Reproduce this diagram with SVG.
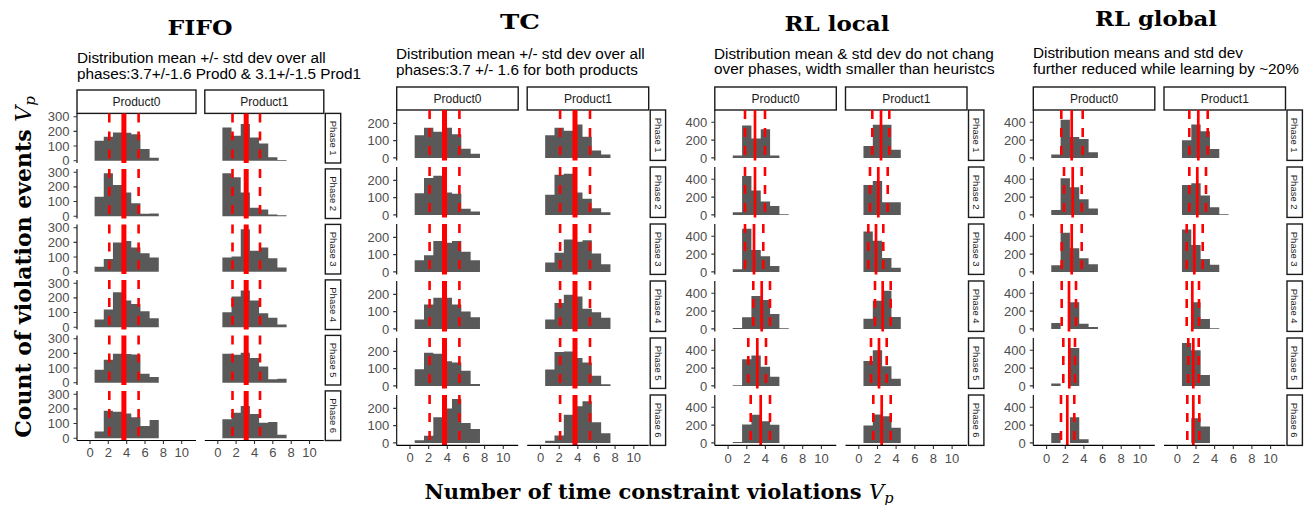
<svg xmlns="http://www.w3.org/2000/svg" width="1316" height="505" viewBox="0 0 1316 505">
<style>
text{font-family:"Liberation Sans",Arial,sans-serif}
.title{font-family:"DejaVu Serif",serif;font-weight:bold;font-size:21px;text-anchor:middle;fill:#000}
.sub{font-size:15.3px;fill:#000}
.bar{fill:#595959}
.mu{stroke:#f00;stroke-width:5;fill:none}
.mu-rl{stroke:#f00;stroke-width:2.7;fill:none}
.sd{stroke:#f00;stroke-width:2.6;stroke-dasharray:9 9;fill:none}
.ax{stroke:#000;stroke-width:1.1;fill:none}
.tk{stroke:#333;stroke-width:1.1;fill:none}
.yl{font-size:13px;fill:#4d4d4d;text-anchor:end}
.xl{font-size:13px;fill:#4d4d4d;text-anchor:middle}
.strip{fill:#fff;stroke:#1a1a1a;stroke-width:1.4}
.st{font-size:12px;fill:#1a1a1a;text-anchor:middle}
.ph{font-size:9.5px;fill:#1a1a1a;text-anchor:middle}
.lab{font-family:"DejaVu Serif",serif;font-weight:bold;font-size:22px;text-anchor:middle;fill:#000}
.lab-x{font-size:21px}
.math{font-style:italic;font-weight:normal}
.sub-p{font-size:15px}
.lab-x .sub-p{font-size:14.5px}
</style>
<defs>
  <!-- y axes, one per panel row (local origin = zero count) -->
  <g id="yax-fifo">
    <path class="ax" d="M0 -47.3V2.3"/>
    <path class="tk" d="M-3.5 0H0M-3.5 -14.67H0M-3.5 -29.33H0M-3.5 -44H0"/>
    <text class="yl" x="-7.5" y="4.6">0</text>
    <text class="yl" x="-7.5" y="-10.07">100</text>
    <text class="yl" x="-7.5" y="-24.73">200</text>
    <text class="yl" x="-7.5" y="-39.4">300</text>
  </g>
  <g id="yax-tc">
    <path class="ax" d="M0 -47.9V2.5"/>
    <path class="tk" d="M-3.5 0H0M-3.5 -17.25H0M-3.5 -34.5H0"/>
    <text class="yl" x="-7.5" y="4.6">0</text>
    <text class="yl" x="-7.5" y="-12.65">100</text>
    <text class="yl" x="-7.5" y="-29.9">200</text>
  </g>
  <g id="yax-rl">
    <path class="ax" d="M0 -47.9V2.5"/>
    <path class="tk" d="M-3.5 0H0M-3.5 -17.8H0M-3.5 -35.6H0"/>
    <text class="yl" x="-7.5" y="4.6">0</text>
    <text class="yl" x="-7.5" y="-13.2">200</text>
    <text class="yl" x="-7.5" y="-31">400</text>
  </g>
  <!-- mean and mean +/- sd markers that stay fixed over all phases -->
  <g id="vl-fifo">
    <path class="sd" d="M109.3 -47.3V2.3M138.6 -47.3V2.3M232.5 -47.3V2.3M260 -47.3V2.3"/>
    <path class="mu" d="M123.9 -47.3V2.3M246.2 -47.3V2.3"/>
  </g>
  <g id="vl-tc">
    <path class="sd" d="M429.6 -47.9V2.5M459.4 -47.9V2.5M560.1 -47.9V2.5M590 -47.9V2.5"/>
    <path class="mu" d="M444.5 -47.9V2.5M575 -47.9V2.5"/>
  </g>
</defs>

<rect width="1316" height="505" fill="#fff"/>

<!-- ===== FIFO ===== -->
<g id="fifo">
  <text class="title" x="200" y="35" textLength="65" lengthAdjust="spacingAndGlyphs">FIFO</text>
  <text class="sub" x="77" y="63">Distribution mean +/- std dev over all</text>
  <text class="sub" x="77" y="79">phases:3.7+/-1.6 Prod0 &amp; 3.1+/-1.5 Prod1</text>
  <g id="fifo-strips">
    <rect class="strip" x="77" y="90" width="119" height="23.4"/>
    <text class="st" x="136.5" y="106">Product0</text>
    <rect class="strip" x="204.8" y="90" width="119" height="23.4"/>
    <text class="st" x="264.3" y="106">Product1</text>
  </g>
  <g id="fifo-ph1" transform="translate(0,160.7)">
    <path class="bar" transform="translate(90 0) scale(9.17 -0.14667)" d="M0.5 0V136H1.5V164H2.5V193H3.5V190H4.5V180H5.5V80H6.5V20H7.5V0Z"/>
    <path class="bar" transform="translate(217.8 0) scale(9.17 -0.14667)" d="M0.5 0V227H1.5V170H2.5V250H3.5V159H4.5V118H5.5V23H6.5V5H7.5V0Z"/>
    <use href="#vl-fifo"/>
    <use href="#yax-fifo" x="77"/>
    <rect class="strip" x="325.3" y="-47.3" width="15.4" height="49.6"/>
    <text class="ph" transform="translate(329.6,-22.5) rotate(90)">Phase 1</text>
  </g>
  <g id="fifo-ph2" transform="translate(0,216.2)">
    <path class="bar" transform="translate(90 0) scale(9.17 -0.14667)" d="M0.5 0V132H1.5V293H2.5V212H3.5V162H4.5V88H5.5V16H6.5V18H7.5V0Z"/>
    <path class="bar" transform="translate(217.8 0) scale(9.17 -0.14667)" d="M0.5 0V293H1.5V265H2.5V162H3.5V58H4.5V46H5.5V12H6.5V7H7.5V0Z"/>
    <use href="#vl-fifo"/>
    <use href="#yax-fifo" x="77"/>
    <rect class="strip" x="325.3" y="-47.3" width="15.4" height="49.6"/>
    <text class="ph" transform="translate(329.6,-22.5) rotate(90)">Phase 2</text>
  </g>
  <g id="fifo-ph3" transform="translate(0,271.7)">
    <path class="bar" transform="translate(90 0) scale(9.17 -0.14667)" d="M0.5 0V34H1.5V86H2.5V199H3.5V210H4.5V165H5.5V126H6.5V97H7.5V0Z"/>
    <path class="bar" transform="translate(217.8 0) scale(9.17 -0.14667)" d="M0.5 0V97H1.5V104H2.5V289H3.5V142H4.5V165H5.5V92H6.5V29H7.5V0Z"/>
    <use href="#vl-fifo"/>
    <use href="#yax-fifo" x="77"/>
    <rect class="strip" x="325.3" y="-47.3" width="15.4" height="49.6"/>
    <text class="ph" transform="translate(329.6,-22.5) rotate(90)">Phase 3</text>
  </g>
  <g id="fifo-ph4" transform="translate(0,327.2)">
    <path class="bar" transform="translate(90 0) scale(9.17 -0.14667)" d="M0.5 0V52H1.5V120H2.5V239H3.5V182H4.5V159H5.5V109H6.5V61H7.5V0Z"/>
    <path class="bar" transform="translate(217.8 0) scale(9.17 -0.14667)" d="M0.5 0V102H1.5V209H2.5V250H3.5V182H4.5V95H5.5V64H6.5V18H7.5V0Z"/>
    <use href="#vl-fifo"/>
    <use href="#yax-fifo" x="77"/>
    <rect class="strip" x="325.3" y="-47.3" width="15.4" height="49.6"/>
    <text class="ph" transform="translate(329.6,-22.5) rotate(90)">Phase 4</text>
  </g>
  <g id="fifo-ph5" transform="translate(0,382.7)">
    <path class="bar" transform="translate(90 0) scale(9.17 -0.14667)" d="M0.5 0V89H1.5V157H2.5V198H3.5V195H4.5V193H5.5V61H6.5V39H7.5V0Z"/>
    <path class="bar" transform="translate(217.8 0) scale(9.17 -0.14667)" d="M0.5 0V198H1.5V191H2.5V205H3.5V168H4.5V111H5.5V23H6.5V27H7.5V0Z"/>
    <use href="#vl-fifo"/>
    <use href="#yax-fifo" x="77"/>
    <rect class="strip" x="325.3" y="-47.3" width="15.4" height="49.6"/>
    <text class="ph" transform="translate(329.6,-22.5) rotate(90)">Phase 5</text>
  </g>
  <g id="fifo-ph6" transform="translate(0,438.2)">
    <path class="bar" transform="translate(90 0) scale(9.17 -0.14667)" d="M0.5 0V45H1.5V187H2.5V181H3.5V169H4.5V142H5.5V84H6.5V124H7.5V0Z"/>
    <path class="bar" transform="translate(217.8 0) scale(9.17 -0.14667)" d="M0.5 0V129H1.5V174H2.5V219H3.5V165H4.5V106H5.5V111H6.5V23H7.5V0Z"/>
    <use href="#vl-fifo"/>
    <use href="#yax-fifo" x="77"/>
    <rect class="strip" x="325.3" y="-47.3" width="15.4" height="49.6"/>
    <text class="ph" transform="translate(329.6,-22.5) rotate(90)">Phase 6</text>
  </g>
  <g id="fifo-xaxis">
    <path class="ax" d="M77 440.5H196M204.8 440.5H323.8"/>
    <path class="tk" d="M90 440.5v3.5M108.3 440.5v3.5M126.7 440.5v3.5M145 440.5v3.5M163.4 440.5v3.5M181.7 440.5v3.5M217.8 440.5v3.5M236.1 440.5v3.5M254.5 440.5v3.5M272.8 440.5v3.5M291.2 440.5v3.5M309.5 440.5v3.5"/>
    <text class="xl" x="90" y="457">0</text><text class="xl" x="108.3" y="457">2</text><text class="xl" x="126.7" y="457">4</text><text class="xl" x="145" y="457">6</text><text class="xl" x="163.4" y="457">8</text><text class="xl" x="181.7" y="457">10</text>
    <text class="xl" x="217.8" y="457">0</text><text class="xl" x="236.1" y="457">2</text><text class="xl" x="254.5" y="457">4</text><text class="xl" x="272.8" y="457">6</text><text class="xl" x="291.2" y="457">8</text><text class="xl" x="309.5" y="457">10</text>
  </g>
</g>

<!-- ===== TC ===== -->
<g id="tc">
  <text class="title" x="520" y="29" textLength="40" lengthAdjust="spacingAndGlyphs">TC</text>
  <text class="sub" x="396" y="59">Distribution mean +/- std dev over all</text>
  <text class="sub" x="396" y="75">phases:3.7 +/- 1.6 for both products</text>
  <g id="tc-strips">
    <rect class="strip" x="396.7" y="87" width="121.5" height="23"/>
    <text class="st" x="457.5" y="102.8">Product0</text>
    <rect class="strip" x="527.2" y="87" width="121.5" height="23"/>
    <text class="st" x="588" y="102.8">Product1</text>
  </g>
  <g id="tc-ph1" transform="translate(0,157.9)">
    <path class="bar" transform="translate(410 0) scale(9.33 -0.1725)" d="M0.5 0V131H1.5V175H2.5V151H3.5V175H4.5V137H5.5V53H6.5V24H7.5V0Z"/>
    <path class="bar" transform="translate(540.5 0) scale(9.33 -0.1725)" d="M0.5 0V131H1.5V175H2.5V157H3.5V194H4.5V122H5.5V43H6.5V20H7.5V0Z"/>
    <use href="#vl-tc"/>
    <use href="#yax-tc" x="396.7"/>
    <rect class="strip" x="650.2" y="-47.9" width="15.4" height="50.4"/>
    <text class="ph" transform="translate(654.5,-22.7) rotate(90)">Phase 1</text>
  </g>
  <g id="tc-ph2" transform="translate(0,214.9)">
    <path class="bar" transform="translate(410 0) scale(9.33 -0.1725)" d="M0.5 0V126H1.5V214H2.5V227H3.5V130H4.5V122H5.5V35H6.5V19H7.5V0Z"/>
    <path class="bar" transform="translate(540.5 0) scale(9.33 -0.1725)" d="M0.5 0V117H1.5V233H2.5V239H3.5V130H4.5V93H5.5V39H6.5V16H7.5V0Z"/>
    <use href="#vl-tc"/>
    <use href="#yax-tc" x="396.7"/>
    <rect class="strip" x="650.2" y="-47.9" width="15.4" height="50.4"/>
    <text class="ph" transform="translate(654.5,-22.7) rotate(90)">Phase 2</text>
  </g>
  <g id="tc-ph3" transform="translate(0,271.9)">
    <path class="bar" transform="translate(410 0) scale(9.33 -0.1725)" d="M0.5 0V68H1.5V97H2.5V179H3.5V169H4.5V179H5.5V117H6.5V68H7.5V0Z"/>
    <path class="bar" transform="translate(540.5 0) scale(9.33 -0.1725)" d="M0.5 0V54H1.5V111H2.5V188H3.5V175H4.5V184H5.5V107H6.5V45H7.5V0Z"/>
    <use href="#vl-tc"/>
    <use href="#yax-tc" x="396.7"/>
    <rect class="strip" x="650.2" y="-47.9" width="15.4" height="50.4"/>
    <text class="ph" transform="translate(654.5,-22.7) rotate(90)">Phase 3</text>
  </g>
  <g id="tc-ph4" transform="translate(0,328.9)">
    <path class="bar" transform="translate(410 0) scale(9.33 -0.1725)" d="M0.5 0V55H1.5V142H2.5V181H3.5V181H4.5V142H5.5V101H6.5V68H7.5V0Z"/>
    <path class="bar" transform="translate(540.5 0) scale(9.33 -0.1725)" d="M0.5 0V55H1.5V150H2.5V198H3.5V188H4.5V117H5.5V97H6.5V64H7.5V0Z"/>
    <use href="#vl-tc"/>
    <use href="#yax-tc" x="396.7"/>
    <rect class="strip" x="650.2" y="-47.9" width="15.4" height="50.4"/>
    <text class="ph" transform="translate(654.5,-22.7) rotate(90)">Phase 4</text>
  </g>
  <g id="tc-ph5" transform="translate(0,385.9)">
    <path class="bar" transform="translate(410 0) scale(9.33 -0.1725)" d="M0.5 0V97H1.5V192H2.5V187H3.5V143H4.5V135H5.5V88H6.5V11H7.5V0Z"/>
    <path class="bar" transform="translate(540.5 0) scale(9.33 -0.1725)" d="M0.5 0V95H1.5V196H2.5V200H3.5V162H4.5V135H5.5V59H6.5V10H7.5V0Z"/>
    <use href="#vl-tc"/>
    <use href="#yax-tc" x="396.7"/>
    <rect class="strip" x="650.2" y="-47.9" width="15.4" height="50.4"/>
    <text class="ph" transform="translate(654.5,-22.7) rotate(90)">Phase 5</text>
  </g>
  <g id="tc-ph6" transform="translate(0,442.9)">
    <path class="bar" transform="translate(410 0) scale(9.33 -0.1725)" d="M0.5 0V15H1.5V41H2.5V148H3.5V200H4.5V254H5.5V115H6.5V80H7.5V0Z"/>
    <path class="bar" transform="translate(540.5 0) scale(9.33 -0.1725)" d="M0.5 0V13H1.5V43H2.5V163H3.5V213H4.5V241H5.5V120H6.5V56H7.5V0Z"/>
    <use href="#vl-tc"/>
    <use href="#yax-tc" x="396.7"/>
    <rect class="strip" x="650.2" y="-47.9" width="15.4" height="50.4"/>
    <text class="ph" transform="translate(654.5,-22.7) rotate(90)">Phase 6</text>
  </g>
  <g id="tc-xaxis">
    <path class="ax" d="M396.7 445.4H518.2M527.2 445.4H648.7"/>
    <path class="tk" d="M410 445.4v3.5M428.7 445.4v3.5M447.3 445.4v3.5M466 445.4v3.5M484.6 445.4v3.5M503.3 445.4v3.5M540.5 445.4v3.5M559.2 445.4v3.5M577.8 445.4v3.5M596.5 445.4v3.5M615.1 445.4v3.5M633.8 445.4v3.5"/>
    <text class="xl" x="410" y="462">0</text><text class="xl" x="428.7" y="462">2</text><text class="xl" x="447.3" y="462">4</text><text class="xl" x="466" y="462">6</text><text class="xl" x="484.6" y="462">8</text><text class="xl" x="503.3" y="462">10</text>
    <text class="xl" x="540.5" y="462">0</text><text class="xl" x="559.2" y="462">2</text><text class="xl" x="577.8" y="462">4</text><text class="xl" x="596.5" y="462">6</text><text class="xl" x="615.1" y="462">8</text><text class="xl" x="633.8" y="462">10</text>
  </g>
</g>

<!-- ===== RL local ===== -->
<g id="rl-local">
  <text class="title" x="837" y="31" textLength="105" lengthAdjust="spacingAndGlyphs">RL local</text>
  <text class="sub" x="714" y="59">Distribution mean &amp; std dev do not chang</text>
  <text class="sub" x="714" y="74">over phases, width smaller than heuristcs</text>
  <g id="rll-strips">
    <rect class="strip" x="714.8" y="87" width="121.5" height="23"/>
    <text class="st" x="775.6" y="102.8">Product0</text>
    <rect class="strip" x="845.5" y="87" width="121.5" height="23"/>
    <text class="st" x="906.3" y="102.8">Product1</text>
  </g>
  <g id="rll-ph1" transform="translate(0,157.9)">
    <path class="bar" transform="translate(728.1 0) scale(9.33 -0.089)" d="M0.5 0V27H1.5V365H2.5V219H3.5V323H4.5V27H5.5V0Z"/>
    <path class="bar" transform="translate(858.8 0) scale(9.33 -0.089)" d="M0.5 0V135H1.5V373H2.5V373H3.5V92H4.5V0Z"/>
    <path class="sd" d="M745 -47.9V2.5M765 -47.9V2.5M872.3 -47.9V2.5M889.3 -47.9V2.5"/>
    <path class="mu-rl" d="M755 -47.9V2.5M881 -47.9V2.5"/>
    <use href="#yax-rl" x="714.8"/>
    <rect class="strip" x="968.5" y="-47.9" width="15.4" height="50.4"/>
    <text class="ph" transform="translate(972.8,-22.7) rotate(90)">Phase 1</text>
  </g>
  <g id="rll-ph2" transform="translate(0,214.9)">
    <path class="bar" transform="translate(728.1 0) scale(9.33 -0.089)" d="M0.5 0V30H1.5V437H2.5V273H3.5V150H4.5V101H5.5V7H6.5V0Z"/>
    <path class="bar" transform="translate(858.8 0) scale(9.33 -0.089)" d="M0.5 0V336H1.5V381H2.5V142H3.5V142H4.5V0Z"/>
    <path class="sd" d="M745 -47.9V2.5M765 -47.9V2.5M870 -47.9V2.5M887.7 -47.9V2.5"/>
    <path class="mu-rl" d="M755 -47.9V2.5M878.3 -47.9V2.5"/>
    <use href="#yax-rl" x="714.8"/>
    <rect class="strip" x="968.5" y="-47.9" width="15.4" height="50.4"/>
    <text class="ph" transform="translate(972.8,-22.7) rotate(90)">Phase 2</text>
  </g>
  <g id="rll-ph3" transform="translate(0,271.9)">
    <path class="bar" transform="translate(728.1 0) scale(9.33 -0.089)" d="M0.5 0V29H1.5V484H2.5V247H3.5V175H4.5V65H5.5V0Z"/>
    <path class="bar" transform="translate(858.8 0) scale(9.33 -0.089)" d="M0.5 0V455H1.5V349H2.5V156H3.5V47H4.5V0Z"/>
    <path class="sd" d="M745 -47.9V2.5M763.3 -47.9V2.5M868.3 -47.9V2.5M883.3 -47.9V2.5"/>
    <path class="mu-rl" d="M754 -47.9V2.5M876 -47.9V2.5"/>
    <use href="#yax-rl" x="714.8"/>
    <rect class="strip" x="968.5" y="-47.9" width="15.4" height="50.4"/>
    <text class="ph" transform="translate(972.8,-22.7) rotate(90)">Phase 3</text>
  </g>
  <g id="rll-ph4" transform="translate(0,328.9)">
    <path class="bar" transform="translate(728.1 0) scale(9.33 -0.089)" d="M0.5 0V11H1.5V130H2.5V370H3.5V326H4.5V167H5.5V7H6.5V0Z"/>
    <path class="bar" transform="translate(858.8 0) scale(9.33 -0.089)" d="M0.5 0V115H1.5V315H2.5V430H3.5V133H4.5V0Z"/>
    <path class="sd" d="M753.3 -47.9V2.5M770 -47.9V2.5M875 -47.9V2.5M890.7 -47.9V2.5"/>
    <path class="mu-rl" d="M761.7 -47.9V2.5M882.7 -47.9V2.5"/>
    <use href="#yax-rl" x="714.8"/>
    <rect class="strip" x="968.5" y="-47.9" width="15.4" height="50.4"/>
    <text class="ph" transform="translate(972.8,-22.7) rotate(90)">Phase 4</text>
  </g>
  <g id="rll-ph5" transform="translate(0,385.9)">
    <path class="bar" transform="translate(728.1 0) scale(9.33 -0.089)" d="M0.5 0V7H1.5V300H2.5V341H3.5V215H4.5V104H5.5V0Z"/>
    <path class="bar" transform="translate(858.8 0) scale(9.33 -0.089)" d="M0.5 0V281H1.5V400H2.5V222H3.5V81H4.5V0Z"/>
    <path class="sd" d="M748.3 -47.9V2.5M766 -47.9V2.5M871 -47.9V2.5M886.7 -47.9V2.5"/>
    <path class="mu-rl" d="M757.3 -47.9V2.5M879 -47.9V2.5"/>
    <use href="#yax-rl" x="714.8"/>
    <rect class="strip" x="968.5" y="-47.9" width="15.4" height="50.4"/>
    <text class="ph" transform="translate(972.8,-22.7) rotate(90)">Phase 5</text>
  </g>
  <g id="rll-ph6" transform="translate(0,442.9)">
    <path class="bar" transform="translate(728.1 0) scale(9.33 -0.089)" d="M0.5 0V11H1.5V207H2.5V315H3.5V244H4.5V204H5.5V0Z"/>
    <path class="bar" transform="translate(858.8 0) scale(9.33 -0.089)" d="M0.5 0V196H1.5V319H2.5V300H3.5V170H4.5V0Z"/>
    <path class="sd" d="M750.7 -47.9V2.5M770 -47.9V2.5M873.3 -47.9V2.5M890.7 -47.9V2.5"/>
    <path class="mu-rl" d="M760.7 -47.9V2.5M881.7 -47.9V2.5"/>
    <use href="#yax-rl" x="714.8"/>
    <rect class="strip" x="968.5" y="-47.9" width="15.4" height="50.4"/>
    <text class="ph" transform="translate(972.8,-22.7) rotate(90)">Phase 6</text>
  </g>
  <g id="rll-xaxis">
    <path class="ax" d="M714.8 445.4H836.3M845.5 445.4H967"/>
    <path class="tk" d="M728.1 445.4v3.5M746.8 445.4v3.5M765.4 445.4v3.5M784.1 445.4v3.5M802.7 445.4v3.5M821.4 445.4v3.5M858.8 445.4v3.5M877.5 445.4v3.5M896.1 445.4v3.5M914.8 445.4v3.5M933.4 445.4v3.5M952.1 445.4v3.5"/>
    <text class="xl" x="728.1" y="462.5">0</text><text class="xl" x="746.8" y="462.5">2</text><text class="xl" x="765.4" y="462.5">4</text><text class="xl" x="784.1" y="462.5">6</text><text class="xl" x="802.7" y="462.5">8</text><text class="xl" x="821.4" y="462.5">10</text>
    <text class="xl" x="858.8" y="462.5">0</text><text class="xl" x="877.5" y="462.5">2</text><text class="xl" x="896.1" y="462.5">4</text><text class="xl" x="914.8" y="462.5">6</text><text class="xl" x="933.4" y="462.5">8</text><text class="xl" x="952.1" y="462.5">10</text>
  </g>
</g>

<!-- ===== RL global ===== -->
<g id="rl-global">
  <text class="title" x="1156" y="26" textLength="122" lengthAdjust="spacingAndGlyphs">RL global</text>
  <text class="sub" x="1033" y="58">Distribution means and std dev</text>
  <text class="sub" x="1033" y="74">further reduced while learning by ~20%</text>
  <g id="rlg-strips">
    <rect class="strip" x="1033.3" y="87" width="121.5" height="23"/>
    <text class="st" x="1094.1" y="102.8">Product0</text>
    <rect class="strip" x="1164" y="87" width="121.5" height="23"/>
    <text class="st" x="1224.8" y="102.8">Product1</text>
  </g>
  <g id="rlg-ph1" transform="translate(0,157.9)">
    <path class="bar" transform="translate(1046.6 0) scale(9.33 -0.089)" d="M0.5 0V37H1.5V430H2.5V236H3.5V213H4.5V64H5.5V0Z"/>
    <path class="bar" transform="translate(1177.3 0) scale(9.33 -0.089)" d="M0.5 0V198H1.5V374H2.5V299H3.5V101H4.5V0Z"/>
    <path class="sd" d="M1061.3 -47.9V2.5M1082.7 -47.9V2.5M1189.3 -47.9V2.5M1207.7 -47.9V2.5"/>
    <path class="mu-rl" d="M1071.7 -47.9V2.5M1198.3 -47.9V2.5"/>
    <use href="#yax-rl" x="1033.3"/>
    <rect class="strip" x="1287" y="-47.9" width="15.4" height="50.4"/>
    <text class="ph" transform="translate(1291.3,-22.7) rotate(90)">Phase 1</text>
  </g>
  <g id="rlg-ph2" transform="translate(0,214.9)">
    <path class="bar" transform="translate(1046.6 0) scale(9.33 -0.089)" d="M0.5 0V56H1.5V411H2.5V310H3.5V176H4.5V71H5.5V0Z"/>
    <path class="bar" transform="translate(1177.3 0) scale(9.33 -0.089)" d="M0.5 0V336H1.5V355H2.5V217H3.5V86H4.5V7H5.5V0Z"/>
    <path class="sd" d="M1064 -47.9V2.5M1081.7 -47.9V2.5M1189.3 -47.9V2.5M1206 -47.9V2.5"/>
    <path class="mu-rl" d="M1072.7 -47.9V2.5M1197.3 -47.9V2.5"/>
    <use href="#yax-rl" x="1033.3"/>
    <rect class="strip" x="1287" y="-47.9" width="15.4" height="50.4"/>
    <text class="ph" transform="translate(1291.3,-22.7) rotate(90)">Phase 2</text>
  </g>
  <g id="rlg-ph3" transform="translate(0,271.9)">
    <path class="bar" transform="translate(1046.6 0) scale(9.33 -0.089)" d="M0.5 0V76H1.5V440H2.5V265H3.5V153H4.5V87H5.5V0Z"/>
    <path class="bar" transform="translate(1177.3 0) scale(9.33 -0.089)" d="M0.5 0V476H1.5V302H2.5V145H3.5V80H4.5V0Z"/>
    <path class="sd" d="M1061.7 -47.9V2.5M1081.7 -47.9V2.5M1186.7 -47.9V2.5M1202.7 -47.9V2.5"/>
    <path class="mu-rl" d="M1071.7 -47.9V2.5M1194.3 -47.9V2.5"/>
    <use href="#yax-rl" x="1033.3"/>
    <rect class="strip" x="1287" y="-47.9" width="15.4" height="50.4"/>
    <text class="ph" transform="translate(1291.3,-22.7) rotate(90)">Phase 3</text>
  </g>
  <g id="rlg-ph4" transform="translate(0,328.9)">
    <path class="bar" transform="translate(1046.6 0) scale(9.33 -0.089)" d="M0.5 0V67H1.5V0H2.5V300H3.5V59H4.5V22H5.5V0Z"/>
    <path class="bar" transform="translate(1177.3 0) scale(9.33 -0.089)" d="M1.5 0V300H2.5V111H3.5V7H4.5V0Z"/>
    <path class="sd" d="M1061.7 -47.9V2.5M1076 -47.9V2.5M1186.7 -47.9V2.5M1199 -47.9V2.5"/>
    <path class="mu-rl" d="M1069 -47.9V2.5M1192.3 -47.9V2.5"/>
    <use href="#yax-rl" x="1033.3"/>
    <rect class="strip" x="1287" y="-47.9" width="15.4" height="50.4"/>
    <text class="ph" transform="translate(1291.3,-22.7) rotate(90)">Phase 4</text>
  </g>
  <g id="rlg-ph5" transform="translate(0,385.9)">
    <path class="bar" transform="translate(1046.6 0) scale(9.33 -0.089)" d="M0.5 0V26H1.5V0H2.5V426H3.5V0Z"/>
    <path class="bar" transform="translate(1177.3 0) scale(9.33 -0.089)" d="M0.5 0V481H1.5V400H2.5V122H3.5V0Z"/>
    <path class="sd" d="M1063.3 -47.9V2.5M1075 -47.9V2.5M1188.3 -47.9V2.5M1198.7 -47.9V2.5"/>
    <path class="mu-rl" d="M1069.3 -47.9V2.5M1193.3 -47.9V2.5"/>
    <use href="#yax-rl" x="1033.3"/>
    <rect class="strip" x="1287" y="-47.9" width="15.4" height="50.4"/>
    <text class="ph" transform="translate(1291.3,-22.7) rotate(90)">Phase 5</text>
  </g>
  <g id="rlg-ph6" transform="translate(0,442.9)">
    <path class="bar" transform="translate(1046.6 0) scale(9.33 -0.089)" d="M0.5 0V111H1.5V0H2.5V289H3.5V41H4.5V0Z"/>
    <path class="bar" transform="translate(1177.3 0) scale(9.33 -0.089)" d="M1.5 0V278H2.5V185H3.5V0Z"/>
    <path class="sd" d="M1061 -47.9V2.5M1074.3 -47.9V2.5M1187.3 -47.9V2.5M1199.3 -47.9V2.5"/>
    <path class="mu-rl" d="M1067.3 -47.9V2.5M1193.3 -47.9V2.5"/>
    <use href="#yax-rl" x="1033.3"/>
    <rect class="strip" x="1287" y="-47.9" width="15.4" height="50.4"/>
    <text class="ph" transform="translate(1291.3,-22.7) rotate(90)">Phase 6</text>
  </g>
  <g id="rlg-xaxis">
    <path class="ax" d="M1033.3 445.4H1154.8M1164 445.4H1285.5"/>
    <path class="tk" d="M1046.6 445.4v3.5M1065.3 445.4v3.5M1083.9 445.4v3.5M1102.6 445.4v3.5M1121.2 445.4v3.5M1139.9 445.4v3.5M1177.3 445.4v3.5M1196 445.4v3.5M1214.6 445.4v3.5M1233.3 445.4v3.5M1251.9 445.4v3.5M1270.6 445.4v3.5"/>
    <text class="xl" x="1046.6" y="462.5">0</text><text class="xl" x="1065.3" y="462.5">2</text><text class="xl" x="1083.9" y="462.5">4</text><text class="xl" x="1102.6" y="462.5">6</text><text class="xl" x="1121.2" y="462.5">8</text><text class="xl" x="1139.9" y="462.5">10</text>
    <text class="xl" x="1177.3" y="462.5">0</text><text class="xl" x="1196" y="462.5">2</text><text class="xl" x="1214.6" y="462.5">4</text><text class="xl" x="1233.3" y="462.5">6</text><text class="xl" x="1251.9" y="462.5">8</text><text class="xl" x="1270.6" y="462.5">10</text>
  </g>
</g>

<!-- shared axis titles -->
<g id="axis-titles">
  <text class="lab" transform="translate(31,267) rotate(-90)">Count of violation events <tspan class="math">V</tspan><tspan class="math sub-p" dy="4">p</tspan></text>
  <text class="lab lab-x" x="659" y="499">Number of time constraint violations <tspan class="math">V</tspan><tspan class="math sub-p" dy="4">p</tspan></text>
</g>
</svg>
